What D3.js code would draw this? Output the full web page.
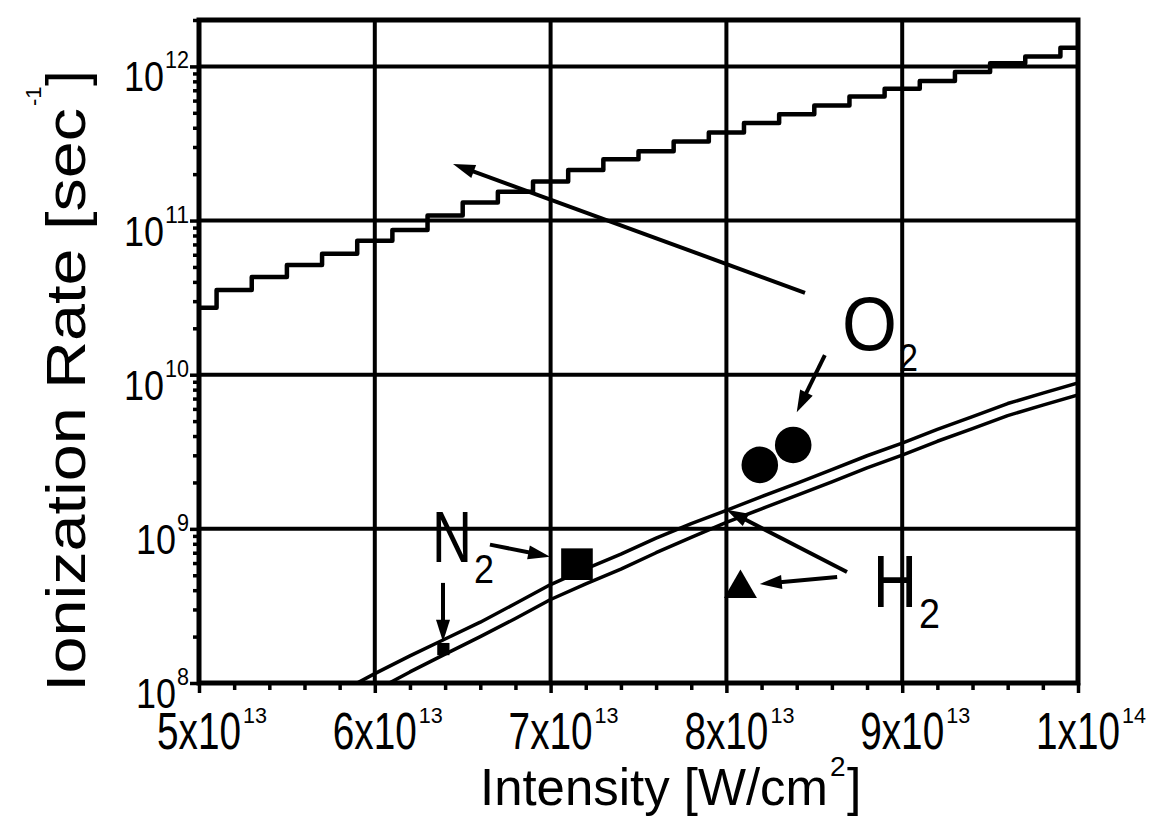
<!DOCTYPE html>
<html>
<head>
<meta charset="utf-8">
<script src="https://cdn.jsdelivr.net/npm/d3@7"></script>
<style>
  body { margin: 0; background: #fff; }
  svg { display: block; font-family: "Liberation Sans", Arial, Helvetica, sans-serif; }
</style>
</head>
<body>
<svg id="chart" width="1150" height="825"></svg>
<script>
////////////
/// DATA ///
////////////

// O2 theory curve (intensity in W/cm2, rate in 1/sec)
const o2Intensity = [5.0e13, 5.2e13, 5.4e13, 5.6e13, 5.8e13, 6.0e13, 6.2e13, 6.4e13, 6.6e13, 6.8e13, 7.0e13,
    7.2e13, 7.4e13, 7.6e13, 7.8e13, 8.0e13, 8.2e13, 8.4e13, 8.6e13, 8.8e13, 9.0e13,
    9.2e13, 9.4e13, 9.6e13, 9.8e13, 1.0e14];
const o2Rate = [2.72e10, 3.55e10, 4.3e10, 5.15e10, 6.1e10, 7.4e10, 8.7e10, 1.08e11, 1.31e11, 1.54e11, 1.79e11,
    2.13e11, 2.50e11, 2.82e11, 3.26e11, 3.72e11, 4.30e11, 4.90e11, 5.58e11, 6.38e11, 7.15e11,
    8.05e11, 9.2e11, 1.05e12, 1.16e12, 1.32e12];

// the two lower theory curves (N2 / H2)
const lowAIntensity = [5.8e13, 6.0e13, 6.2e13, 6.4e13, 6.6e13, 6.8e13, 7.0e13, 7.2e13, 7.4e13, 7.6e13, 7.8e13,
    8.0e13, 8.2e13, 8.4e13, 8.6e13, 8.8e13, 9.0e13, 9.2e13, 9.4e13, 9.6e13, 9.8e13, 1.0e14];
const lowARate = [8.7e7, 1.15e8, 1.50e8, 1.93e8, 2.48e8, 3.28e8, 4.35e8, 5.50e8, 6.85e8, 8.7e8, 1.08e9,
    1.32e9, 1.62e9, 1.97e9, 2.42e9, 2.98e9, 3.60e9, 4.42e9, 5.35e9, 6.5e9, 7.6e9, 8.85e9];
const lowBIntensity = [6.0e13, 6.2e13, 6.4e13, 6.6e13, 6.8e13, 7.0e13, 7.2e13, 7.4e13, 7.6e13, 7.8e13,
    8.0e13, 8.2e13, 8.4e13, 8.6e13, 8.8e13, 9.0e13, 9.2e13, 9.4e13, 9.6e13, 9.8e13, 1.0e14];
const lowBRate = [8.9e7, 1.18e8, 1.54e8, 2.00e8, 2.62e8, 3.48e8, 4.4e8, 5.48e8, 7.0e8, 8.8e8,
    1.10e9, 1.35e9, 1.65e9, 2.02e9, 2.49e9, 3.01e9, 3.70e9, 4.47e9, 5.43e9, 6.35e9, 7.40e9];

// measured points
const pointShape = ['circle', 'circle', 'square', 'smallSquare', 'triangle'];
const pointIntensity = [8.19e13, 8.38e13, 7.15e13, 6.39e13, 8.08e13];
const pointRate = [2.6e9, 3.5e9, 5.9e8, 1.66e8, 4.1e8];

// annotation arrows (data coordinates: start -> tip)
const arrowFromIntensity = [8.447e13, 8.56e13, 6.655e13, 6.388e13, 8.63e13, 8.686e13];
const arrowFromRate = [3.4e10, 1.34e10, 7.9e8, 4.46e8, 4.87e8, 5.25e8];
const arrowToIntensity = [6.445e13, 8.40e13, 6.997e13, 6.388e13, 8.19e13, 8.0e13];
const arrowToRate = [2.33e11, 5.7e9, 6.6e8, 1.85e8, 4.39e8, 1.33e9];

// molecule labels
const labelMain = ['O', 'N', 'H'];
const labelSub = ['2', '2', '2'];
const labelIntensity = [8.658e13, 6.325e13, 8.834e13];
const labelRate = [1.45e10, 6.1e8, 3.11e8];

// ticks
const xTicks = [5e13, 6e13, 7e13, 8e13, 9e13, 1e14];
const xTickMantissa = ['5', '6', '7', '8', '9', '1'];
const xTickExp = ['13', '13', '13', '13', '13', '14'];
const yTicks = [1e8, 1e9, 1e10, 1e11, 1e12];
const yTickExp = ['8', '9', '10', '11', '12'];

/////////////
/// SETUP ///
/////////////

const margin = {top: 20, right: 72, bottom: 142, left: 199};
const width = 1150 - margin.left - margin.right;
const height = 825 - margin.top - margin.bottom;

const svg = d3.select('#chart');
const g = svg.append('g').attr('transform', 'translate(' + margin.left + ',' + margin.top + ')');

const x = d3.scaleLinear().domain([5e13, 1e14]).range([0, width]);
const y = d3.scaleLog().domain([1e8, 2e12]).range([height, 0]);

svg.append('defs').append('clipPath').attr('id', 'plot-clip')
    .append('rect').attr('width', width).attr('height', height);

// text squeezed to a given width (the original lettering is narrow)
// the squeeze is a transform so the box of the text stays true
function narrowText(parent, tx, ty, str, size, targetWidth, anchor) {
    const holder = parent.append('g');
    const t = holder.append('text')
        .attr('font-size', size)
        .attr('text-anchor', anchor || 'start')
        .text(str);
    const natural = t.node().getComputedTextLength();
    const sx = targetWidth ? targetWidth / natural : 1;
    holder.attr('transform', 'translate(' + tx + ',' + ty + ') scale(' + sx + ',1)');
    return holder;
}

/////////////////
/// GRIDLINES ///
/////////////////

g.append('g').selectAll('line').data(xTicks.slice(1, -1)).enter()
    .append('line')
    .attr('x1', d => x(d)).attr('x2', d => x(d))
    .attr('y1', 0).attr('y2', height)
    .attr('stroke', '#000').attr('stroke-width', 4);

g.append('g').selectAll('line').data(yTicks.slice(1)).enter()
    .append('line')
    .attr('x1', 0).attr('x2', width)
    .attr('y1', d => y(d)).attr('y2', d => y(d))
    .attr('stroke', '#000').attr('stroke-width', 4);

//////////////
/// CURVES ///
//////////////

// O2 curve keeps the stair look of the original, the lower pair is drawn straight
const curves = [
    {xs: o2Intensity, ys: o2Rate, w: 4.5, curve: d3.curveStep},
    {xs: lowAIntensity, ys: lowARate, w: 3.5, curve: d3.curveLinear},
    {xs: lowBIntensity, ys: lowBRate, w: 3.5, curve: d3.curveLinear}
];

g.append('g').attr('clip-path', 'url(#plot-clip)')
    .selectAll('path').data(curves).enter()
    .append('path')
    .attr('d', c => d3.line().x(d => x(d[0])).y(d => y(d[1])).curve(c.curve)(c.xs.map((v, i) => [v, c.ys[i]])))
    .attr('fill', 'none')
    .attr('stroke', '#000')
    .attr('stroke-width', c => c.w)
    .attr('stroke-linejoin', 'round');

//////////////
/// POINTS ///
//////////////

function symbolFor(shape) {
    switch (shape) {
        case 'circle': return d3.symbol(d3.symbolCircle, 1050)();
        case 'square': return d3.symbol(d3.symbolSquare, 1000)();
        case 'smallSquare': return d3.symbol(d3.symbolSquare, 150)();
        case 'triangle': return d3.symbol(d3.symbolTriangle, 470)();
    }
}

g.append('g').selectAll('path').data(pointShape).enter()
    .append('path')
    .attr('transform', (d, i) => 'translate(' + x(pointIntensity[i]) + ',' + y(pointRate[i]) + ')')
    .attr('d', d => symbolFor(d))
    .attr('fill', '#000');

//////////////
/// ARROWS ///
//////////////

const arrowG = g.append('g');
arrowFromIntensity.forEach(function(v, i) {
    const x0 = x(v), y0 = y(arrowFromRate[i]);
    const x1 = x(arrowToIntensity[i]), y1 = y(arrowToRate[i]);
    const len = Math.hypot(x1 - x0, y1 - y0);
    const ux = (x1 - x0) / len, uy = (y1 - y0) / len;
    const headLen = 22, headHalf = 7;
    arrowG.append('line')
        .attr('x1', x0).attr('y1', y0)
        .attr('x2', x1 - ux * 12).attr('y2', y1 - uy * 12)
        .attr('stroke', '#000').attr('stroke-width', 4);
    const bx = x1 - ux * headLen, by = y1 - uy * headLen;
    arrowG.append('path')
        .attr('d', 'M' + x1 + ',' + y1 +
            'L' + (bx - uy * headHalf) + ',' + (by + ux * headHalf) +
            'L' + (bx + uy * headHalf) + ',' + (by - ux * headHalf) + 'Z')
        .attr('fill', '#000');
});

//////////////
/// LABELS ///
//////////////

const labelG = g.append('g');
const labelSize = [76, 72, 75];
const labelWidth = [55, 40, 44];
const subSize = [38, 40, 42];
labelMain.forEach(function(t, i) {
    const lx = x(labelIntensity[i]), ly = y(labelRate[i]);
    narrowText(labelG, lx, ly, t, labelSize[i], labelWidth[i]);
    narrowText(labelG, lx + labelWidth[i] + 2, ly + 21, labelSub[i], subSize[i], subSize[i] * 0.5);
});

/////////////////////
/// FRAME + TICKS ///
/////////////////////

g.append('rect')
    .attr('width', width).attr('height', height)
    .attr('fill', 'none').attr('stroke', '#000').attr('stroke-width', 5);

const xMinor = d3.range(0, 26).map(i => 5e13 + i * 2e12)
    .filter(v => !xTicks.some(t => Math.abs(t - v) < 1e9));
const yMinor = [];
[1e8, 1e9, 1e10, 1e11, 1e12].forEach(function(dec) {
    for (let m = 2; m <= 9; m++) { if (dec * m <= 2e12) yMinor.push(dec * m); }
});

function styleAxis(sel) {
    sel.select('.domain').remove();
    sel.selectAll('line').attr('stroke', '#000').attr('stroke-width', 3.5);
}

g.append('g').attr('transform', 'translate(0,' + height + ')')
    .call(d3.axisBottom(x).tickValues(xMinor).tickSize(7).tickFormat(''))
    .call(styleAxis);
g.append('g').attr('transform', 'translate(0,' + height + ')')
    .call(d3.axisBottom(x).tickValues(xTicks).tickSize(10).tickFormat(''))
    .call(styleAxis);
g.append('g')
    .call(d3.axisLeft(y).tickValues(yMinor).tickSize(6).tickFormat(''))
    .call(styleAxis);
g.append('g')
    .call(d3.axisLeft(y).tickValues(yTicks).tickSize(9).tickFormat(''))
    .call(styleAxis);

///////////////////
/// TICK LABELS ///
///////////////////

const xLab = g.append('g');
xTicks.forEach(function(t, i) {
    narrowText(xLab, x(t), height + 66, xTickMantissa[i] + 'x10', 51, 84, 'middle');
    narrowText(xLab, x(t) + 44, height + 40, xTickExp[i], 22, 24);
});

const yLab = g.append('g');
yTicks.forEach(function(t, i) {
    const supW = yTickExp[i].length * 12;
    narrowText(yLab, -10 - supW - 1, y(t) + 25, '10', 42, 40, 'end');
    narrowText(yLab, -10 - supW, y(t) + 2, yTickExp[i], 24, supW);
});

///////////////////
/// AXIS TITLES ///
///////////////////

narrowText(svg, 480, 805, 'Intensity [W/cm', 52, 348);
svg.append('text')
    .attr('x', 830).attr('y', 776)
    .attr('font-size', 28)
    .text('2');
svg.append('text')
    .attr('x', 847).attr('y', 805)
    .attr('font-size', 52)
    .text(']');

const yTitle = svg.append('g').attr('transform', 'translate(85,692) rotate(-90)');
narrowText(yTitle, 0, 0, 'Ionization Rate [sec', 56, 584);
yTitle.append('text')
    .attr('x', 586).attr('y', -44)
    .attr('font-size', 22)
    .text('-1');
yTitle.append('text')
    .attr('x', 606)
    .attr('font-size', 56)
    .text(']');
</script>
</body>
</html>
